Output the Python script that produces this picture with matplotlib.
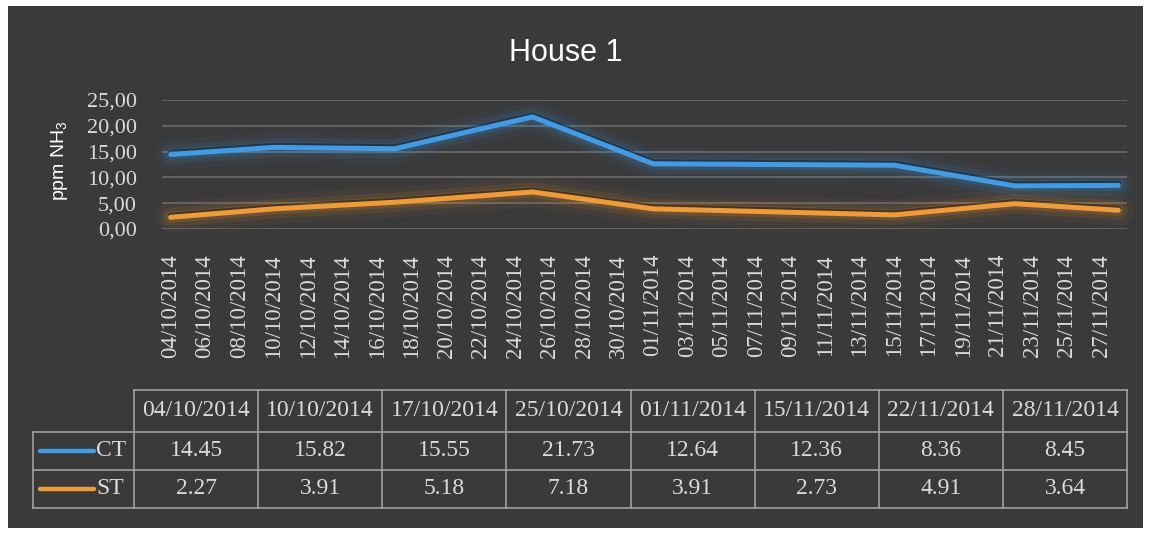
import pandas as pd
import matplotlib
matplotlib.use("Agg")
import matplotlib.pyplot as plt
import matplotlib.dates as mdates
import matplotlib.patheffects as pe
from matplotlib.patches import Rectangle

dates = ["04/10/2014", "10/10/2014", "17/10/2014", "25/10/2014",
         "01/11/2014", "15/11/2014", "22/11/2014", "28/11/2014"]
ct = [14.45, 15.82, 15.55, 21.73, 12.64, 12.36, 8.36, 8.45]
st = [2.27, 3.91, 5.18, 7.18, 3.91, 2.73, 4.91, 3.64]
series_names = ["CT", "ST"]
yticks = [0, 5, 10, 15, 20, 25]

bg = "#3a3a3a"
txt = "#dadada"
grid_col = "#6a6a6a"
blue = "#3f9ce8"
orange = "#f29a34"
colors = {"CT": blue, "ST": orange}

plt.rcParams["mathtext.fontset"] = "custom"
plt.rcParams["mathtext.rm"] = "Liberation Sans"

W, H = 1152, 534
fig = plt.figure(figsize=(W / 100, H / 100), dpi=100, facecolor="white")

# dark chart area inside a thin white margin
fig.patches.append(Rectangle((8 / W, 6 / H), (1143 - 8) / W, (528 - 6) / H,
                             transform=fig.transFigure, facecolor=bg,
                             edgecolor="none", zorder=-10))

fig.text(566 / W, 1 - 53 / H, "House 1", ha="center", va="center",
         fontsize=22, color="white", family="Liberation Sans")

# ---- line chart ----
ax = fig.add_axes([162 / W, 1 - 229 / H, (1127 - 162) / W, (229 - 100) / H])
ax.set_facecolor("none")

x = pd.to_datetime(dates, dayfirst=True)
half = pd.Timedelta(hours=12)
ax.set_xlim(x[0] - half, x[-1] + half)
ax.set_ylim(0, 25)

ticks = pd.date_range(x[0], x[-1], freq="2D")
ax.set_xticks(ticks)
ax.xaxis.set_major_formatter(mdates.DateFormatter("%d/%m/%Y"))
ax.tick_params(axis="x", length=0, pad=18, labelsize=16.5, labelcolor=txt,
               labelrotation=90)
for lab in ax.get_xticklabels():
    lab.set_family("Liberation Serif")

ax.set_yticks(yticks)
ax.set_yticklabels([f"{v:.2f}".replace(".", ",") for v in yticks])
ax.tick_params(axis="y", length=0, pad=18, labelsize=16, labelcolor=txt)
for lab in ax.get_yticklabels():
    lab.set_family("Liberation Serif")

ax.grid(True, axis="y", color=grid_col, linewidth=1.2)
ax.set_axisbelow(True)
for s in ax.spines.values():
    s.set_visible(False)

ax.set_ylabel(r"ppm NH$_\mathregular{3}$", fontsize=14, color="white",
              family="Liberation Sans")
ax.yaxis.set_label_coords(-0.095, 0.53)

# lines with a soft glow, like the Excel effect
for name, vals in zip(series_names, [ct, st]):
    c = colors[name]
    ax.plot(x, vals, color=c, linewidth=3.6, solid_capstyle="round",
            solid_joinstyle="round", clip_on=False,
            path_effects=[pe.Stroke(linewidth=22, foreground=c, alpha=0.05),
                          pe.Stroke(linewidth=14, foreground=c, alpha=0.09),
                          pe.Stroke(linewidth=8, foreground=c, alpha=0.15),
                          pe.Stroke(linewidth=4.5, foreground="black",
                                    alpha=0.35, offset=(0, 1)),
                          pe.Normal()])

# ---- data table under the chart ----
tab = fig.add_axes([33 / W, 1 - 508 / H, (1127 - 33) / W, (508 - 390) / H])
tab.set_axis_off()
ncol = len(dates)
lab_w = (134 - 33) / 124  # row label column, in column units
tab.set_xlim(-lab_w, ncol)
row_edges = [0, 1.1, 2.1, 3.1]
tab.set_ylim(row_edges[-1], 0)

lc = "#a0a0a0"
lw = 1.2
tab.plot([0, ncol], [0, 0], color=lc, lw=lw, clip_on=False)
for y in row_edges[1:]:
    tab.plot([-lab_w, ncol], [y, y], color=lc, lw=lw, clip_on=False)
tab.plot([-lab_w, -lab_w], [row_edges[1], row_edges[-1]], color=lc, lw=lw,
         clip_on=False)
for i in range(ncol + 1):
    tab.plot([i, i], [0, row_edges[-1]], color=lc, lw=lw, clip_on=False)

for i, d in enumerate(dates):
    tab.text(i + 0.5, (row_edges[0] + row_edges[1]) / 2, d, ha="center",
             va="center", fontsize=17, color=txt, family="Liberation Serif")

for r, (name, vals) in enumerate(zip(series_names, [ct, st])):
    yc = (row_edges[r + 1] + row_edges[r + 2]) / 2
    tab.plot([-lab_w + 0.06, -lab_w + 0.49], [yc, yc], color=colors[name],
             lw=3.2, solid_capstyle="round")
    tab.text(-lab_w + 0.51, yc, name, ha="left", va="center", fontsize=17,
             color=txt, family="Liberation Serif")
    for i, v in enumerate(vals):
        tab.text(i + 0.5, yc, f"{v:.2f}", ha="center", va="center",
                 fontsize=17, color=txt, family="Liberation Serif")

fig.savefig("out.png", dpi=100, facecolor=fig.get_facecolor())
